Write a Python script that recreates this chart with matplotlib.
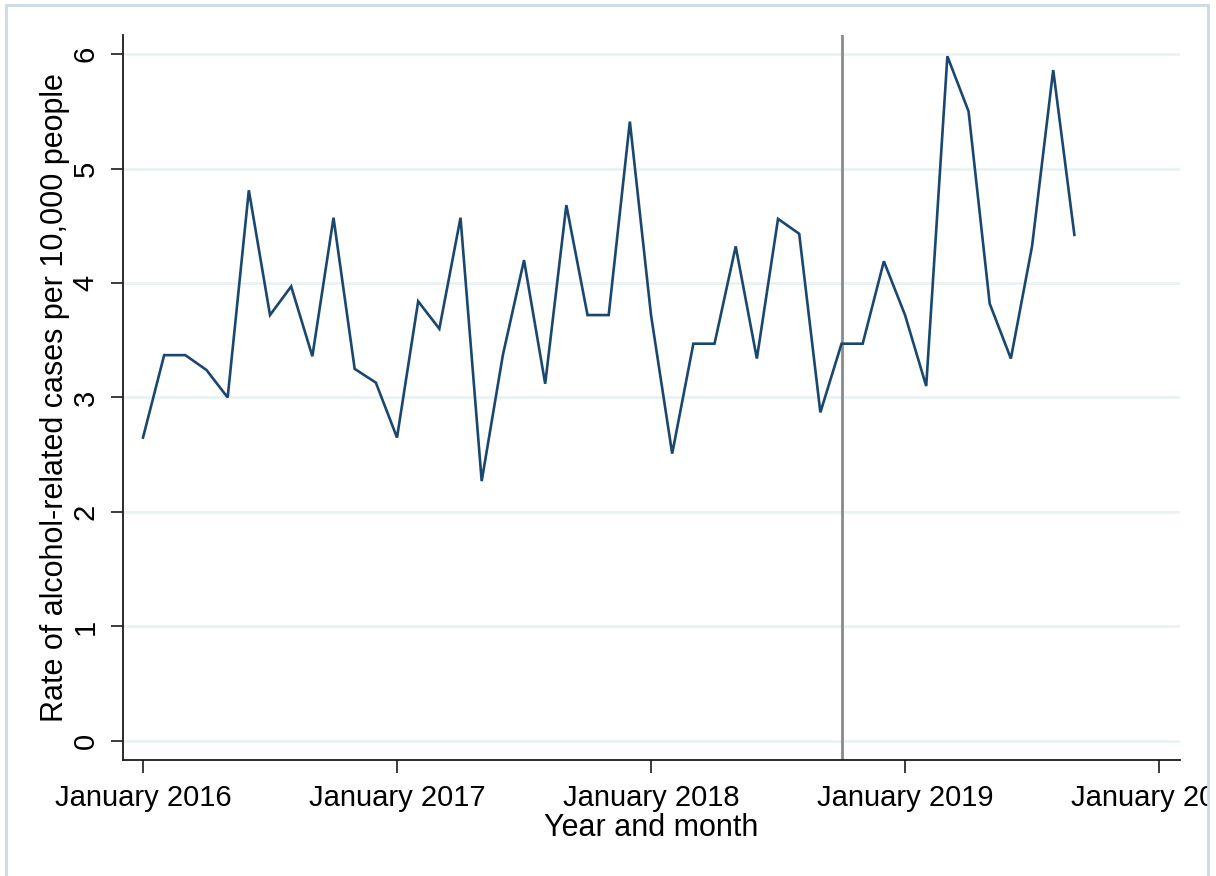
import matplotlib
matplotlib.use("Agg")
import matplotlib.pyplot as plt
from matplotlib.patches import Rectangle
from matplotlib.lines import Line2D
import numpy as np

plt.rcParams["font.family"] = ["Liberation Sans", "DejaVu Sans"]

# Monthly rate of alcohol-related cases, January 2016 - September 2019
rates = [
    2.65, 3.37, 3.37, 3.24, 3.00, 4.81, 3.72, 3.97, 3.36, 4.57, 3.25, 3.13,   # 2016
    2.65, 3.84, 3.60, 4.57, 2.27, 3.37, 4.20, 3.12, 4.68, 3.72, 3.72, 5.41,   # 2017
    3.72, 2.51, 3.47, 3.47, 4.32, 3.34, 4.56, 4.43, 2.87, 3.47, 3.47, 4.19,   # 2018
    3.72, 3.10, 5.98, 5.50, 3.82, 3.34, 4.32, 5.86, 4.42,                     # 2019
]
months = np.arange(len(rates))          # 0 = January 2016
tick_months = [0, 12, 24, 36, 48]
tick_labels = ["January 2016", "January 2017", "January 2018",
               "January 2019", "January 2020"]
y_ticks = [0, 1, 2, 3, 4, 5, 6]
intervention_month = 33                 # October 2018

W, H = 1216, 876
fig = plt.figure(figsize=(W / 100, H / 100), dpi=100)
ax = fig.add_axes([123 / W, 1 - 760 / H, (1180 - 123) / W, (760 - 35) / H])

ax.plot(months, rates, color="#1a476f", lw=1.9, zorder=3, solid_joinstyle="miter")
ax.axvline(intervention_month, color="#8a8a8a", lw=2.0, zorder=2)

ax.set_xlim(-0.945, 48.99)
ax.set_ylim(-0.166, 6.166)

ax.set_yticks(y_ticks)
ax.set_yticklabels([str(v) for v in y_ticks], rotation=90, va="center")
ax.set_xticks(tick_months)
ax.set_xticklabels(tick_labels)

ax.yaxis.grid(True, color="#eaf2f3", lw=2.0, zorder=0)
ax.set_axisbelow(True)

for side in ("top", "right"):
    ax.spines[side].set_visible(False)
for side in ("left", "bottom"):
    ax.spines[side].set_color("#1a1a1a")
    ax.spines[side].set_linewidth(1.3)

ax.tick_params(axis="both", length=9, width=1.2, color="#1a1a1a",
               labelsize=21, labelcolor="#000000")
ax.tick_params(axis="x", pad=8)
ax.tick_params(axis="y", pad=8)

ax.set_xlabel("Year and month", fontsize=22, color="#000000", labelpad=1)
ax.set_ylabel("Rate of alcohol-related cases per 10,000 people",
              fontsize=22, color="#000000", labelpad=1)

# graph region: white margin on the right and light blue outline
fig.patches.append(Rectangle((1209 / W, 0), 7 / W, 1, transform=fig.transFigure,
                             facecolor="white", edgecolor="none", zorder=10))
border = dict(color="#cdd9e8", lw=2.0, transform=fig.transFigure, zorder=11)
fig.lines.append(Line2D([6 / W, 6 / W], [0, 1 - 5 / H], **border))
fig.lines.append(Line2D([6 / W, 1208 / W], [1 - 5 / H, 1 - 5 / H], **border))
fig.lines.append(Line2D([1208 / W, 1208 / W], [0, 1 - 5 / H], **border))

fig.savefig("out.png", dpi=100, facecolor="white")
